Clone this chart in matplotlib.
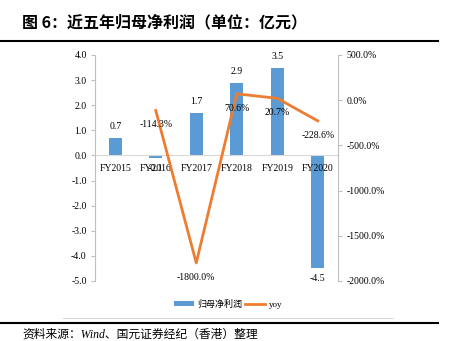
import numpy as np
import matplotlib.pyplot as plt
from matplotlib.lines import Line2D

plt.rcParams['font.family'] = ['Liberation Serif', 'Noto Sans CJK SC', 'DejaVu Sans']

years = ['FY2015', 'FY2016', 'FY2017', 'FY2018', 'FY2019', 'FY2020']
profit = [0.7, -0.1, 1.7, 2.9, 3.5, -4.5]
yoy = [np.nan, -114.3, -1800.0, 70.6, 20.7, -228.6]

blue = '#5B9BD5'
orange = '#ED7D31'
grey = '#BFBFBF'

fig = plt.figure(figsize=(4.53, 3.41), dpi=100)
ax = fig.add_axes([95/453, 1 - 281/341, (338 - 95)/453, (281 - 55)/341])
ax2 = ax.twinx()

x = np.arange(len(years))
bars = ax.bar(x, profit, 0.32, color=blue, label='归母净利润', zorder=1)
line, = ax2.plot(x, yoy, color=orange, lw=2, label='yoy')

ax.set_xlim(-0.5, len(years) - 0.5)
ax.set_ylim(-5, 4)
ax.set_yticks(np.arange(-5, 4.1, 1))
ax.set_yticklabels(['%.1f' % v for v in np.arange(-5, 4.1, 1)])
ax2.set_ylim(-2000, 500)
ax2.set_yticks(np.arange(-2000, 501, 500))
ax2.set_yticklabels(['%.1f%%' % v for v in np.arange(-2000, 501, 500)])

ax.set_axisbelow(False)
ax.set_xticks(x)
ax.set_xticklabels(years)
ax.spines['bottom'].set_position(('data', 0))
ax.spines['bottom'].set_color('#D9D9D9')
ax.tick_params(axis='x', length=0, pad=6, labelsize=7)
for a in (ax, ax2):
    a.spines['top'].set_visible(False)
    a.spines['left'].set_color(grey)
    a.spines['right'].set_color(grey)
    a.tick_params(axis='y', length=3, color=grey, labelsize=7, pad=3)
ax.spines['right'].set_visible(False)
ax2.spines['left'].set_visible(False)
ax2.spines['bottom'].set_visible(False)

# bar value labels
for xi, v in zip(x, profit):
    if v >= 0:
        ax.annotate('%.1f' % v, (xi, v), xytext=(0, 5), textcoords='offset points',
                    ha='center', va='bottom', fontsize=7)
    else:
        ax.annotate('%.1f' % v, (xi, v), xytext=(0, -4), textcoords='offset points',
                    ha='center', va='top', fontsize=7)

# yoy labels
for xi, v in zip(x, yoy):
    if np.isnan(v):
        continue
    ax2.annotate('%.1f%%' % v, (xi, v), xytext=(0, -7), textcoords='offset points',
                 ha='center', va='top', fontsize=7)

handles = [bars, Line2D([], [], color=orange, lw=2)]
fig.legend(handles, ['归母净利润', 'yoy'], loc='center', bbox_to_anchor=(228/453, 1 - 304/341),
           ncol=2, frameon=False, fontsize=6.5, handlelength=2.2, handleheight=0.6,
           columnspacing=0.3, handletextpad=0.4)

# title, rules and source
fig.text(22/453, 1 - 22/341, '图 6：近五年归母净利润（单位：亿元）', fontsize=11.5,
         fontweight='bold', family=['Noto Sans CJK SC'], va='center')
fig.add_artist(Line2D([0, 438/453], [1 - 41/341] * 2, color='black', lw=1.5))
fig.add_artist(Line2D([63/453, 393/453], [1 - 318/341] * 2, color='#D9D9D9', lw=0.8))
fig.add_artist(Line2D([0, 438/453], [1 - 323/341] * 2, color='black', lw=1.5))
fig.text(22/453, 1 - 335/341, '资料来源：Wind、国元证券经纪（香港）整理', fontsize=8.5,
         style='italic', va='center')

fig.savefig('out.png', dpi=100)
